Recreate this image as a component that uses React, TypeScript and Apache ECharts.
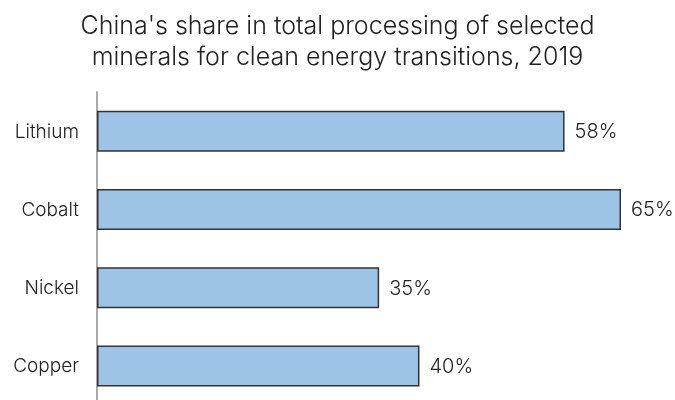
import React, { useEffect, useRef } from "react";
import * as echarts from "echarts";

const categories = ["Lithium", "Cobalt", "Nickel", "Copper"];
const shares = [58, 65, 35, 40];
const titleText = "China's share in total processing of selected\nminerals for clean energy transitions, 2019";

export default function App() {
  const ref = useRef<HTMLDivElement>(null);
  useEffect(() => {
    const chart = echarts.init(ref.current!, null, { renderer: "svg" });
    chart.setOption({
      animation: false,
      title: {
        text: titleText,
        left: "center",
        top: 4,
        textStyle: {
          fontFamily: "Inter",
          fontWeight: 300,
          fontSize: 25,
          lineHeight: 31,
          color: "#222",
        },
      },
      grid: { left: 97, right: 54, top: 92, bottom: 5, containLabel: false },
      xAxis: {
        type: "value",
        min: 0,
        max: 65,
        show: false,
      },
      yAxis: {
        type: "category",
        data: categories,
        inverse: true,
        axisLine: { show: true, lineStyle: { color: "#aaa", width: 2 } },
        axisTick: { show: false },
        axisLabel: {
          margin: 18,
          fontFamily: "Inter",
          fontWeight: 300,
          fontSize: 19,
          color: "#222",
        },
      },
      series: [
        {
          type: "bar",
          data: shares,
          barWidth: 41,
          itemStyle: { color: "#9dc3e6", borderColor: "#333", borderWidth: 1.5 },
          label: {
            show: true,
            position: "right",
            distance: 10,
            formatter: "{c}%",
            fontFamily: "Inter",
            fontWeight: 300,
            fontSize: 20,
            color: "#222",
          },
        },
      ],
    });
    return () => chart.dispose();
  }, []);
  return <div ref={ref} style={{ width: 675, height: 410, position: "fixed", left: 0, top: 0 }} />;
}
